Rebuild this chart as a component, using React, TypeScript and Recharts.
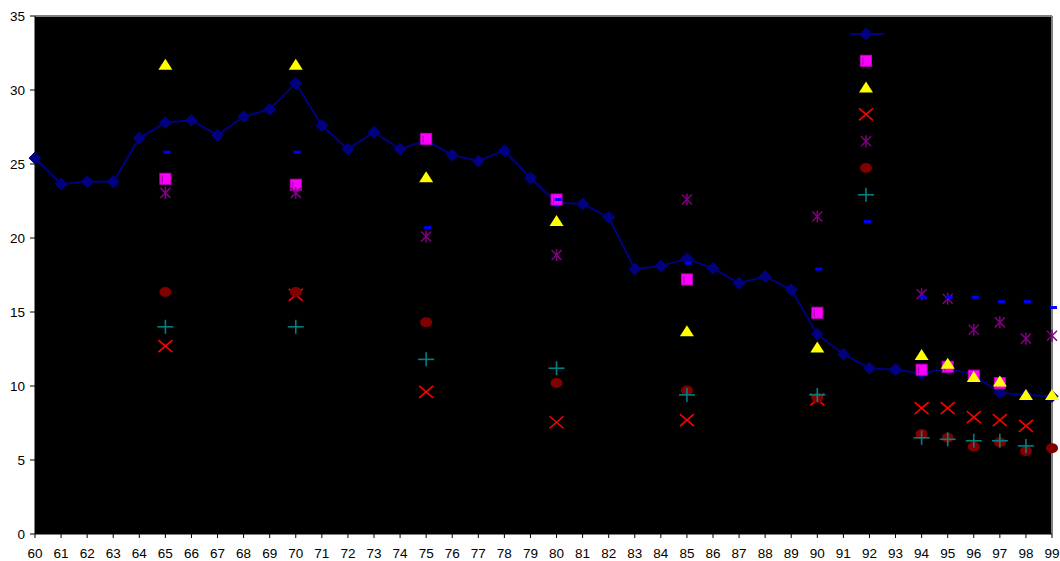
import React from "react";
import {
  ComposedChart,
  Line,
  XAxis,
  YAxis,
  CartesianGrid,
  ReferenceLine,
  Legend,
} from "recharts";

const YEARS = [
  60, 61, 62, 63, 64, 65, 66, 67, 68, 69, 70, 71, 72, 73, 74, 75, 76, 77, 78, 79,
  80, 81, 82, 83, 84, 85, 86, 87, 88, 89, 90, 91, 92, 93, 94, 95, 96, 97, 98, 99,
];

const MAIN_LINE = [
  25.4, 23.65, 23.8, 23.8, 26.75, 27.8, 27.95, 26.95, 28.2, 28.7, 30.45, 27.6, 26.0,
  27.15, 26.0, 26.6, 25.6, 25.2, 25.9, 24.05, 22.4, 22.3, 21.4, 17.9, 18.1, 18.6,
  17.95, 16.95, 17.4, 16.5, 13.5, 12.15, 11.2, 11.1, 10.85, 11.2, 10.75, 9.55, 9.4, 9.3,
];

const SURVEY_YEARS = [65, 70, 75, 80, 85, 90, 94, 95, 96, 97, 98, 99];

const MAGENTA = [24.0, 23.6, 26.7, 22.6, 17.2, 14.95, 11.1, 11.3, 10.7, 10.2, null, null];
const YELLOW = [31.7, 31.7, 24.1, 21.15, 13.7, 12.6, 12.1, 11.5, 10.6, 10.3, 9.4, 9.4];
const RED = [12.7, 16.15, 9.6, 7.55, 7.7, 9.1, 8.5, 8.5, 7.9, 7.7, 7.3, null];
const PURPLE = [23.05, 23.05, 20.1, 18.85, 22.6, 21.45, 16.2, 15.9, 13.8, 14.3, 13.2, 13.4];
const MAROON = [16.35, 16.35, 14.3, 10.2, 9.7, 9.2, 6.75, 6.5, 5.9, 6.2, 5.6, 5.8];
const TEAL = [14.0, 14.0, 11.8, 11.2, 9.4, 9.4, 6.5, 6.4, 6.3, 6.3, 5.95, null];
const BLUE = [25.8, 25.8, 20.7, 22.6, 18.3, 17.9, 16.0, 16.0, 16.0, 15.7, 15.7, 15.3];

const Y_TICKS = [0, 5, 10, 15, 20, 25, 30, 35];

const SERIES = [
  { key: "s1", values: MAGENTA, color: "#FF00FF", shape: "square" },
  { key: "s2", values: YELLOW, color: "#FFFF00", shape: "triangle" },
  { key: "s3", values: RED, color: "#FF0000", shape: "x" },
  { key: "s4", values: PURPLE, color: "#800080", shape: "asterisk" },
  { key: "s5", values: MAROON, color: "#800000", shape: "circle" },
  { key: "s6", values: TEAL, color: "#008080", shape: "plus" },
  { key: "s7", values: BLUE, color: "#0000FF", shape: "dash" },
];

const NAVY = "#000080";

const data = YEARS.map((year, i) => {
  const row: any = { year, main: MAIN_LINE[i] };
  const j = SURVEY_YEARS.indexOf(year);
  SERIES.forEach((s) => {
    row[s.key] = j >= 0 ? s.values[j] : null;
  });
  return row;
});

const marker = (shape: string, color: string, cx: number, cy: number, key?: any) => {
  switch (shape) {
    case "diamond":
      return (
        <polygon
          key={key}
          points={`${cx},${cy - 6} ${cx + 6},${cy} ${cx},${cy + 6} ${cx - 6},${cy}`}
          fill={color}
          stroke={color}
        />
      );
    case "square":
      return (
        <g key={key}>
          <rect x={cx - 5.5} y={cy - 5.5} width={11} height={11} fill={color} stroke="#c000c0" />
          <line x1={cx - 3} y1={cy - 3} x2={cx - 3} y2={cy + 4} stroke="#a000a0" />
        </g>
      );
    case "triangle":
      return (
        <polygon
          key={key}
          points={`${cx},${cy - 6} ${cx + 7},${cy + 5} ${cx - 7},${cy + 5}`}
          fill={color}
        />
      );
    case "x":
      return (
        <g key={key} stroke={color} strokeWidth={1.6}>
          <line x1={cx - 7} y1={cy - 6} x2={cx + 7} y2={cy + 6} />
          <line x1={cx - 7} y1={cy + 6} x2={cx + 7} y2={cy - 6} />
        </g>
      );
    case "asterisk":
      return (
        <g key={key} stroke={color} strokeWidth={1.5}>
          <line x1={cx - 5} y1={cy - 5} x2={cx + 5} y2={cy + 5} />
          <line x1={cx - 5} y1={cy + 5} x2={cx + 5} y2={cy - 5} />
          <line x1={cx} y1={cy - 6} x2={cx} y2={cy + 6} />
        </g>
      );
    case "circle":
      return <ellipse key={key} cx={cx} cy={cy} rx={6} ry={5} fill={color} />;
    case "plus":
      return (
        <g key={key} stroke={color} strokeWidth={1.6}>
          <line x1={cx - 8} y1={cy} x2={cx + 8} y2={cy} />
          <line x1={cx} y1={cy - 7} x2={cx} y2={cy + 7} />
        </g>
      );
    case "dash":
      return <rect key={key} x={cx - 2} y={cy - 1.5} width={7} height={3} fill={color} />;
    default:
      return <g key={key} />;
  }
};

const makeDot = (shape: string, color: string) => (props: any) => {
  const { cx, cy, value, index } = props;
  if (value == null || cy == null || isNaN(cy)) return <g key={`d-${index}`} />;
  return marker(shape, color, cx, cy, `d-${index}`);
};

const LegendMarkers = () => (
  <svg width={40} height={215}>
    <line x1={4} y1={14} x2={38} y2={14} stroke={NAVY} strokeWidth={2} />
    {marker("diamond", NAVY, 20, 14)}
    {SERIES.map((s, i) => marker(s.shape, s.color, 20, 14 + (i + 1) * 26.8, s.key))}
  </svg>
);

export default function App() {
  return (
    <div
      style={{
        position: "absolute",
        left: 0,
        top: 0,
        width: 1060,
        height: 561,
        background: "#fff",
        fontFamily: "'Liberation Sans', Arial, sans-serif",
      }}
    >
      <ComposedChart
        width={1060}
        height={561}
        data={data}
        margin={{ top: 16, right: 8, bottom: 0, left: 0 }}
      >
        <CartesianGrid horizontal={false} vertical={false} fill="#000" />
        <XAxis
          dataKey="year"
          type="number"
          domain={[60, 99]}
          ticks={YEARS}
          interval={0}
          height={27}
          tickSize={4}
          tickMargin={10}
          stroke="#000"
          tick={{ fill: "#000", fontSize: 13.5 }}
        />
        <YAxis
          type="number"
          domain={[0, 35]}
          ticks={Y_TICKS}
          width={35}
          tickSize={5}
          tickMargin={5}
          stroke="#000"
          tick={{ fill: "#000", fontSize: 13.5 }}
        />
        <ReferenceLine y={35} stroke="#808080" strokeWidth={2} />
        <ReferenceLine x={99} stroke="#808080" strokeWidth={2} />
        <Line
          dataKey="main"
          stroke={NAVY}
          strokeWidth={2}
          dot={makeDot("diamond", NAVY)}
          activeDot={false}
          isAnimationActive={false}
        />
        {SERIES.map((s) => (
          <Line
            key={s.key}
            dataKey={s.key}
            stroke="none"
            strokeWidth={0}
            connectNulls={false}
            dot={makeDot(s.shape, s.color)}
            activeDot={false}
            isAnimationActive={false}
          />
        ))}
        <Legend
          layout="horizontal"
          align="center"
          verticalAlign="middle"
          content={() => <LegendMarkers />}
          wrapperStyle={{ position: "absolute", left: 846, top: 20, width: 40, height: 215 }}
        />
      </ComposedChart>
    </div>
  );
}
